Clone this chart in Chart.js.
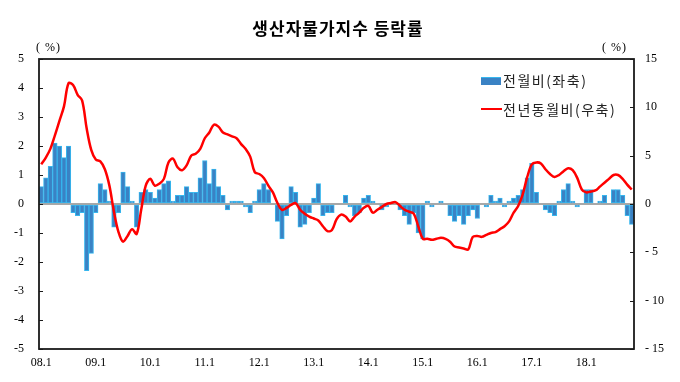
<!DOCTYPE html>
<html>
<head>
<meta charset="utf-8">
<script src="https://cdn.jsdelivr.net/npm/chart.js@4.4.1/dist/chart.umd.min.js"></script>
<style>
  html, body { margin: 0; padding: 0; background: #fff; }
  #wrap { position: relative; width: 680px; height: 382px; }
  canvas { position: absolute; left: 0; top: 0; }
  .txt { position: absolute; font-family: "Noto Sans CJK KR", "Noto Sans", sans-serif; color: #000; white-space: nowrap; }
  #title { left: 0; width: 676px; top: 15px; text-align: center; font-size: 17px; font-weight: bold; letter-spacing: 1px; }
  .unit { top: 40px; font-family: "Liberation Serif", serif; font-size: 12px; letter-spacing: 1px; }
  .leg { font-size: 14px; letter-spacing: 1.5px; color: #222; }
  .sw { position: absolute; }
</style>
</head>
<body>
<div id="wrap">
  <canvas id="c" width="680" height="382"></canvas>
  <div id="title" class="txt">생산자물가지수 등락률</div>
  <div class="txt unit" style="left:36px;">( %)</div>
  <div class="txt unit" style="left:602px;">( %)</div>
  <div class="sw" style="left:481px; top:77px; width:20px; height:7px; background:#3a82c4; border-top:1px solid #36b6ee;"></div>
  <div class="txt leg" style="left:503px; top:70px;">전월비(좌축)</div>
  <div class="sw" style="left:481px; top:108px; width:21px; height:2px; background:#ff0000;"></div>
  <div class="txt leg" style="left:503px; top:99px;">전년동월비(우축)</div>
</div>
<script>
// ---- data ----
const years = ['08','09','10','11','12','13','14','15','16','17','18'];
const lastMonth = 11; // data through 18.11
const tickLabels = ['08.1','09.1','10.1','11.1','12.1','13.1','14.1','15.1','16.1','17.1','18.1'];

// 전월비 (left axis, %)
const monthOnMonth = [
  0.6, 0.9, 1.3, 2.1, 2.0, 1.6, 2.0, -0.3, -0.4, -0.3, -2.3, -1.7,
  -0.3, 0.7, 0.5, 0.1, -0.8, -0.3, 1.1, 0.6, 0.1, -0.8, 0.4, 0.5,
  0.4, 0.2, 0.5, 0.7, 0.8, 0.1, 0.3, 0.3, 0.6, 0.4, 0.4, 0.9,
  1.5, 0.7, 1.2, 0.6, 0.3, -0.2, 0.1, 0.1, 0.1, -0.1, -0.3, 0.1,
  0.5, 0.7, 0.5, 0.0, -0.6, -1.2, -0.4, 0.6, 0.4, -0.8, -0.7, -0.3,
  0.2, 0.7, -0.4, -0.3, -0.3, 0.0, 0.0, 0.3, -0.1, -0.4, -0.3, 0.2,
  0.3, 0.1, 0.0, -0.2, -0.1, 0.0, 0.0, -0.2, -0.4, -0.7, -0.3, -1.0,
  -1.2, 0.1, -0.1, 0.0, 0.1, 0.0, -0.4, -0.6, -0.4, -0.7, -0.4, -0.2,
  -0.5, 0.0, -0.1, 0.3, 0.1, 0.2, -0.1, 0.1, 0.2, 0.3, 0.5, 0.9,
  1.4, 0.4, 0.0, -0.2, -0.3, -0.4, 0.1, 0.5, 0.7, 0.1, -0.1, 0.0,
  0.5, 0.5, 0.0, 0.1, 0.3, 0.0, 0.5, 0.5, 0.3, -0.4, -0.7
];

// 전년동월비 (right axis, %)
const yearOnYear = [
  4.1, 4.8, 5.7, 7.1, 8.6, 10.1, 12.5, 12.3, 11.3, 10.7, 7.8, 5.6,
  4.6, 4.4, 3.6, 1.9, -0.8, -2.9, -3.9, -3.3, -2.6, -3.1, -0.6, 1.9,
  2.6, 1.9, 2.1, 2.6, 4.3, 4.7, 3.8, 3.5, 4.0, 5.0, 5.2, 5.7,
  6.8, 7.4, 8.2, 8.0, 7.4, 7.2, 7.0, 6.8, 6.2, 5.7, 4.9, 3.3,
  3.1, 2.7, 1.9, 1.2, 0.1, -0.6, -0.4, -0.1, 0.1, -0.6, -1.0, -1.3,
  -1.5, -1.7, -2.3, -2.8, -2.7, -1.6, -1.1, -1.3, -1.8, -1.3, -0.9, -0.4,
  -0.2, -0.9, -0.6, -0.3, 0.0, 0.1, 0.2, -0.2, -0.6, -0.8, -1.0, -2.3,
  -3.6, -3.6, -3.7, -3.6, -3.5, -3.6, -3.9, -4.4, -4.5, -4.6, -4.7, -3.4,
  -3.3, -3.4, -3.2, -3.0, -2.9, -2.6, -2.3, -1.8, -0.9, -0.2, 1.0, 2.8,
  4.1, 4.3, 4.2, 3.6, 3.1, 2.8, 3.0, 3.4, 3.7, 3.5, 2.7, 1.5,
  1.2, 1.3, 1.4, 1.8, 2.2, 2.6, 3.0, 3.0, 2.6, 2.0, 1.5
];

const leftTicks = [5, 4, 3, 2, 1, 0, -1, -2, -3, -4, -5];
const rightTicks = [15, 10, 5, 0, -5, -10, -15];

// ---- categories ----
const categories = [];
years.forEach((y, k) => {
  const n = (k === years.length - 1) ? lastMonth : 12;
  for (let m = 1; m <= n; m++) categories.push(y + '.' + m);
});

const PLOT = { left: 39, right: 634, top: 59, bottom: 349 };

const framePlugin = {
  id: 'frame',
  afterDraw(chart) {
    const { ctx, chartArea: a, scales } = chart;
    ctx.save();
    ctx.strokeStyle = '#1a1a1a';
    ctx.beginPath();
    leftTicks.forEach(v => {
      const p = Math.round(scales.y.getPixelForValue(v)) + 0.5;
      ctx.moveTo(a.left, p); ctx.lineTo(a.left + 4, p);
    });
    rightTicks.forEach(v => {
      const p = Math.round(scales.y1.getPixelForValue(v)) + 0.5;
      ctx.moveTo(a.right, p); ctx.lineTo(a.right - 4, p);
    });
    ctx.lineWidth = 1;
    ctx.stroke();
    ctx.lineWidth = 1.8;
    ctx.strokeRect(a.left, a.top, a.right - a.left, a.bottom - a.top);
    ctx.restore();
  }
};

new Chart(document.getElementById('c'), {
  data: {
    labels: categories,
    datasets: [
      {
        type: 'line',
        label: '전년동월비(우축)',
        data: yearOnYear,
        yAxisID: 'y1',
        borderColor: '#ff0000',
        borderWidth: 2.5,
        pointRadius: 0,
        tension: 0.35,
        order: 0
      },
      {
        type: 'bar',
        label: '전월비(좌축)',
        data: monthOnMonth,
        yAxisID: 'y',
        backgroundColor: '#3a82c4',
        borderColor: '#36b6ee',
        borderWidth: 1,
        borderSkipped: false,
        categoryPercentage: 1.0,
        barPercentage: 1.0,
        order: 1
      }
    ]
  },
  options: {
    responsive: false,
    animation: false,
    devicePixelRatio: 1,
    layout: { padding: { left: 0, right: 0, top: PLOT.top, bottom: 0 } },
    plugins: { legend: { display: false }, tooltip: { enabled: false }, title: { display: false } },
    scales: {
      x: {
        type: 'category',
        offset: true,
        grid: { display: false, drawTicks: false },
        border: { display: false },
        afterFit(s) { s.height = 382 - PLOT.bottom; },
        ticks: {
          autoSkip: false, maxRotation: 0, minRotation: 0, padding: 7,
          color: '#000',
          font: { family: 'Liberation Serif', size: 12 },
          callback(v, i) { const l = categories[i]; return tickLabels.includes(l) ? l : ''; }
        }
      },
      y: {
        position: 'left',
        min: -5, max: 5,
        afterFit(s) { s.width = PLOT.left; },
        afterBuildTicks(s) { s.ticks = leftTicks.map(v => ({ value: v })); },
        grid: {
          drawTicks: false,
          color: c => (c.tick && c.tick.value === 0) ? '#a8a8a8' : 'rgba(0,0,0,0)',
          lineWidth: c => (c.tick && c.tick.value === 0) ? 2 : 0
        },
        border: { display: false },
        ticks: { padding: 15, color: '#000', font: { family: 'Liberation Serif', size: 12 } }
      },
      y1: {
        position: 'right',
        min: -15, max: 15,
        afterFit(s) { s.width = 680 - PLOT.right; },
        afterBuildTicks(s) { s.ticks = rightTicks.map(v => ({ value: v })); },
        grid: { display: false, drawTicks: false },
        border: { display: false },
        ticks: { padding: 11, color: '#000', font: { family: 'Liberation Serif', size: 12 },
          callback: v => (v < 0 ? '- ' + Math.abs(v) : String(v)) }
      }
    }
  },
  plugins: [framePlugin]
});
</script>
</body>
</html>
